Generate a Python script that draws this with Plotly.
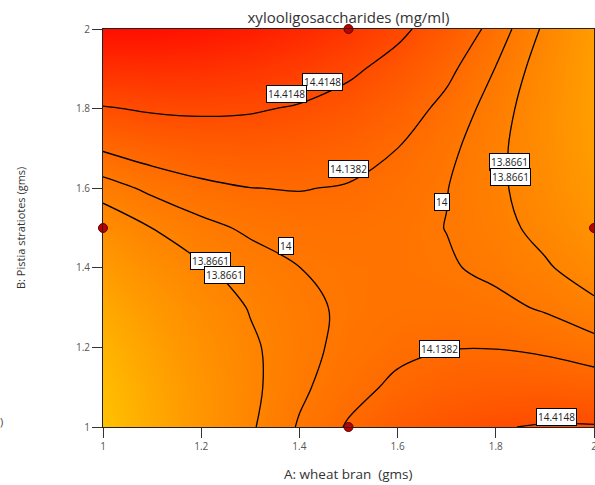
import plotly.graph_objects as go

# ---- data ----
A_values = [1.0, 1.1, 1.2, 1.3, 1.4, 1.5, 1.6, 1.7, 1.8, 1.9, 2.0]   # A: wheat bran (gms)
B_values = [1.0, 1.1, 1.2, 1.3, 1.4, 1.5, 1.6, 1.7, 1.8, 1.9, 2.0]   # B: Pistia stratiotes (gms)
# xylooligosaccharides (mg/ml); rows = B, columns = A
Z_B100 = [13.173, 13.426, 13.650, 13.846, 14.014, 14.154, 14.265, 14.348, 14.403, 14.430, 14.428]
Z_B110 = [13.237, 13.463, 13.661, 13.830, 13.972, 14.085, 14.170, 14.227, 14.255, 14.255, 14.227]
Z_B120 = [13.326, 13.526, 13.697, 13.840, 13.955, 14.042, 14.101, 14.131, 14.133, 14.107, 14.052]
Z_B130 = [13.441, 13.614, 13.759, 13.876, 13.964, 14.025, 14.057, 14.061, 14.037, 13.984, 13.903]
Z_B140 = [13.581, 13.728, 13.846, 13.937, 13.999, 14.033, 14.039, 14.016, 13.966, 13.887, 13.779]
Z_B150 = [13.747, 13.867, 13.960, 14.024, 14.059, 14.067, 14.046, 13.997, 13.920, 13.815, 13.681]
Z_B160 = [13.938, 14.032, 14.098, 14.136, 14.145, 14.126, 14.079, 14.004, 13.901, 13.769, 13.609]
Z_B170 = [14.155, 14.223, 14.263, 14.274, 14.257, 14.212, 14.138, 14.036, 13.906, 13.748, 13.562]
Z_B180 = [14.398, 14.439, 14.452, 14.437, 14.394, 14.322, 14.222, 14.094, 13.938, 13.753, 13.541]
Z_B190 = [14.666, 14.681, 14.668, 14.626, 14.557, 14.459, 14.332, 14.178, 13.995, 13.784, 13.545]
Z_B200 = [14.960, 14.949, 14.909, 14.841, 14.745, 14.620, 14.468, 14.287, 14.078, 13.840, 13.574]

contour_levels = [13.8661, 14.0, 14.1382, 14.4148]

design_A = [1.5, 1.0, 2.0, 1.5]
design_B = [2.0, 1.5, 1.5, 1.0]

x_ticks = [1, 1.2, 1.4, 1.6, 1.8, 2]
y_ticks = [1, 1.2, 1.4, 1.6, 1.8, 2]
x_ticktext = ["1", "1.2", "1.4", "1.6", "1.8", "2"]
y_ticktext = ["1", "1.2", "1.4", "1.6", "1.8", "2"]

# label placement: (level index, A, B)
label_spots = [
    (3, 1.447, 1.867), (3, 1.374, 1.837),
    (2, 1.499, 1.647),
    (0, 1.828, 1.666), (0, 1.829, 1.628),
    (1, 1.691, 1.565),
    (1, 1.372, 1.455),
    (0, 1.2195, 1.416), (0, 1.248, 1.383),
    (2, 1.686, 1.197),
    (3, 1.924, 1.024),
]

Z = [Z_B100, Z_B110, Z_B120, Z_B130, Z_B140, Z_B150,
     Z_B160, Z_B170, Z_B180, Z_B190, Z_B200]

FONT = "Open Sans, Noto Sans, DejaVu Sans, sans-serif"

fig = go.Figure()

fig.add_trace(go.Heatmap(
    x=A_values, y=B_values, z=Z, zsmooth="best",
    zmin=13.17, zmax=14.96,
    colorscale=[[0.0, "rgb(255,194,0)"], [0.25, "rgb(255,152,0)"],
                [0.5, "rgb(255,114,0)"], [0.75, "rgb(255,66,0)"],
                [1.0, "rgb(255,14,0)"]],
    showscale=False, hoverinfo="skip"))

for lv in contour_levels:
    fig.add_trace(go.Contour(
        x=A_values, y=B_values, z=Z,
        contours=dict(start=lv, end=lv, size=1, coloring="none"),
        line=dict(color="black", width=1.3, smoothing=1.0),
        showscale=False, hoverinfo="skip"))

fig.add_trace(go.Scatter(
    x=design_A, y=design_B, mode="markers", cliponaxis=False,
    marker=dict(size=9, color="#C00000", line=dict(color="#5a0000", width=1)),
    hoverinfo="skip"))

annotations = []
for idx, a, b in label_spots:
    annotations.append(dict(
        x=a, y=b, xref="x", yref="y", text=f"{contour_levels[idx]:g}",
        showarrow=False, bgcolor="white", bordercolor="black", borderwidth=1,
        borderpad=1, font=dict(size=10, color="#222", family=FONT)))

annotations.append(dict(
    xref="paper", yref="paper", x=-105/491, y=(427-421)/398,
    text=")", showarrow=False, xanchor="left", yanchor="middle",
    font=dict(size=11, color="#444", family=FONT)))

annotations.append(dict(
    x=(348-103)/491, y=-(474-427)/398, xref="paper", yref="paper",
    text="A: wheat bran  (gms)", showarrow=False, xanchor="center", yanchor="middle",
    font=dict(size=13.5, color="#333", family=FONT)))
annotations.append(dict(
    x=(20-103)/491, y=0.5, xref="paper", yref="paper",
    text="B: Pistia stratiotes (gms)", showarrow=False, textangle=-90,
    xanchor="center", yanchor="middle",
    font=dict(size=11, color="#333", family=FONT)))

fig.update_layout(
    width=595, height=485,
    margin=dict(l=103, r=1, t=29, b=58),
    paper_bgcolor="white", plot_bgcolor="white",
    showlegend=False,
    title=dict(text="xylooligosaccharides (mg/ml)", x=(348.5)/595, xanchor="center",
               y=1 - 18/485, yanchor="middle",
               font=dict(size=15, color="#333", family=FONT)),
    annotations=annotations,
    font=dict(family=FONT),
)

fig.update_xaxes(range=[1, 2], tickvals=x_ticks, ticktext=x_ticktext,
                 ticks="outside", ticklen=10, tickcolor="#333", tickwidth=1,
                 showline=True, mirror=True, linecolor="#222", linewidth=1,
                 showgrid=False, zeroline=False, automargin=False,
                 ticklabeloverflow="allow",
                 tickfont=dict(size=10, color="#555", family=FONT))
fig.update_yaxes(range=[1, 2], tickvals=y_ticks, ticktext=y_ticktext,
                 ticks="outside", ticklen=10, tickcolor="#333", tickwidth=1,
                 showline=True, mirror=True, linecolor="#222", linewidth=1,
                 showgrid=False, zeroline=False, automargin=False,
                 ticklabeloverflow="allow",
                 tickfont=dict(size=10, color="#555", family=FONT))

fig.write_html("out.html")
